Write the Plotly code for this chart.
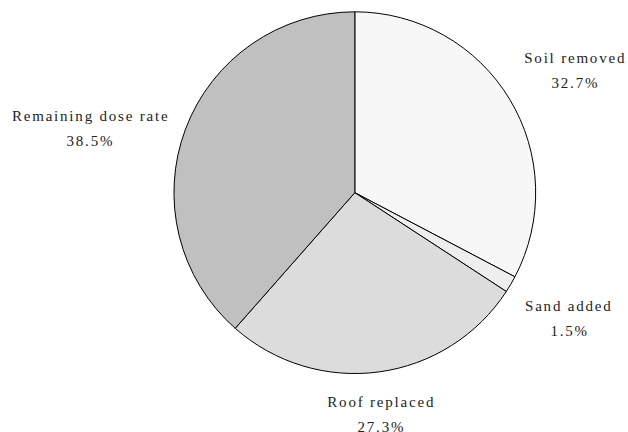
import math
import plotly.graph_objects as go

labels = ["Soil removed", "Sand added", "Roof replaced", "Remaining dose rate"]
values = [32.7, 1.5, 27.3, 38.5]
colors = ["#f7f7f7", "#eeeeee", "#dcdcdc", "#c0c0c0"]

W, H = 628, 432
dom_x = [0.277, 0.853]
dom_y = [0.135, 0.973]
FONT_SIZE = 15
LETTER_SPACING = 1.8

# Times / Liberation Serif advance widths (per 1000 em) for label sizing
_TW = {" ": 250, "S": 556, "o": 500, "i": 278, "l": 278, "r": 333, "e": 444,
       "m": 778, "v": 500, "d": 500, "a": 444, "n": 500, "R": 667, "g": 500,
       "s": 389, "t": 278, "f": 333, "p": 500, "c": 444, ".": 250, "%": 833}


def text_width(t):
    return sum(_TW.get(ch, 500) for ch in t) * FONT_SIZE / 1000 + len(t) * LETTER_SPACING


fig = go.Figure(go.Pie(
    labels=labels,
    values=values,
    sort=False,
    direction="clockwise",
    rotation=0,
    marker=dict(colors=colors, line=dict(color="black", width=1)),
    textinfo="none",
    hoverinfo="skip",
    showlegend=False,
    domain=dict(x=dom_x, y=dom_y),
))

# label placement derived from the data: along each slice's mid angle
cx = (dom_x[0] + dom_x[1]) / 2 * W
cy = (1 - (dom_y[0] + dom_y[1]) / 2) * H      # pixels from top
R = min((dom_x[1] - dom_x[0]) * W, (dom_y[1] - dom_y[0]) * H) / 2
total = sum(values)
gap, half, nudge = 25, 10, 3
font = dict(family="Liberation Serif", size=FONT_SIZE, color="#222222")
annotations = []
cum = 0.0
for lab, v in zip(labels, values):
    pct = f"{v:.1f}%"
    mid = (cum + v / 2) / total * 2 * math.pi
    cum += v
    s, c = math.sin(mid), math.cos(mid)
    r = 1.094 * R
    ax = cx + r * s
    ay = cy - r * c
    bw = max(text_width(lab), text_width(pct))
    if s > 0.3:
        xc = ax + bw / 2
    elif s < -0.3:
        xc = ax - bw / 2
    else:
        xc = ax
    if c > 0.45:
        y1, y2 = ay - half - gap, ay - half
    elif c < -0.45:
        y1, y2 = ay + half, ay + half + gap
    else:
        y1, y2 = ay - gap / 2 + 3, ay + gap / 2 + 3
    for txt, yy in ((lab, y1 + nudge), (pct, y2 + nudge)):
        annotations.append(dict(
            x=xc / W, y=1 - yy / H, xref="paper", yref="paper",
            xanchor="center", yanchor="middle", showarrow=False, align="center",
            text=txt, font=font, borderpad=0,
        ))

fig.update_layout(
    width=W, height=H,
    margin=dict(l=0, r=0, t=0, b=0),
    paper_bgcolor="white",
    plot_bgcolor="white",
    annotations=annotations,
)

post = ("document.body.style.margin='0';"
        "var s=document.createElement('style');"
        "s.innerHTML='.annotation-text{letter-spacing:%spx}';"
        "document.head.appendChild(s);"
        "Plotly.relayout(document.getElementById('{plot_id}'),{});") % LETTER_SPACING
fig.write_html("out.html", post_script=post, config={"displayModeBar": False})
